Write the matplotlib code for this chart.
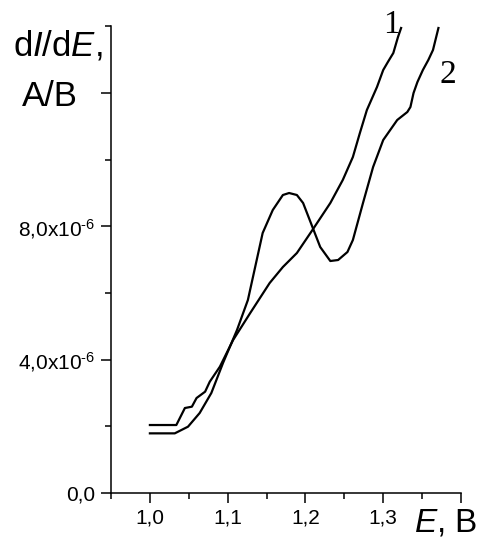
import matplotlib
matplotlib.use("Agg")
import matplotlib.pyplot as plt
import numpy as np

# dI/dE values in units of 1e-6 A/B
e_1 = [1.000, 1.034, 1.045, 1.054, 1.060, 1.071, 1.077, 1.090, 1.107, 1.129,
       1.154, 1.171, 1.189, 1.209, 1.232, 1.248, 1.261, 1.270, 1.279, 1.292,
       1.300, 1.306, 1.313, 1.319, 1.323]
di_1 = [2.04, 2.04, 2.55, 2.59, 2.85, 3.04, 3.34, 3.79, 4.59, 5.40,
        6.30, 6.78, 7.20, 7.89, 8.70, 9.39, 10.08, 10.80, 11.49, 12.18,
        12.69, 12.93, 13.20, 13.68, 13.95]

e_2 = [1.000, 1.032, 1.049, 1.064, 1.079, 1.094, 1.112, 1.126, 1.145, 1.158,
       1.171, 1.179, 1.189, 1.197, 1.209, 1.219, 1.232, 1.242, 1.254, 1.261,
       1.274, 1.287, 1.300, 1.318, 1.331, 1.335, 1.339, 1.344, 1.351, 1.358,
       1.364, 1.371]
di_2 = [1.79, 1.79, 1.99, 2.40, 3.00, 3.90, 4.89, 5.79, 7.80, 8.49,
        8.94, 9.00, 8.94, 8.70, 7.98, 7.38, 6.96, 6.99, 7.23, 7.59,
        8.70, 9.78, 10.59, 11.19, 11.43, 11.58, 12.00, 12.33, 12.69, 12.99,
        13.29, 13.95]

x_major = [1.0, 1.1, 1.2, 1.3, 1.4]
x_labels = ["1,0", "1,1", "1,2", "1,3", ""]
y_major = [0, 4, 8, 12]
y_labels = ["0,0", r"4,0x10$^{\text{-6}}$", r"8,0x10$^{\text{-6}}$", ""]

plt.rcParams["font.family"] = ["Liberation Sans", "DejaVu Sans"]
plt.rcParams["mathtext.fontset"] = "custom"
plt.rcParams["mathtext.rm"] = "Liberation Sans"
plt.rcParams["mathtext.it"] = "Liberation Sans:italic"

fig = plt.figure(figsize=(4.82, 5.39), dpi=100)
ax = fig.add_axes([0.2303, 0.0853, 0.7261, 0.9147])

ax.plot(e_1, di_1, color="black", lw=1.6)
ax.plot(e_2, di_2, color="black", lw=1.6)

ax.set_xlim(0.95, 1.40)
ax.set_ylim(0, 14.79)
ax.spines["top"].set_visible(False)
ax.spines["right"].set_visible(False)
ax.spines["left"].set_bounds(0, 14)
for s in ("left", "bottom"):
    ax.spines[s].set_linewidth(1.1)

ax.set_xticks(x_major)
ax.set_xticklabels(x_labels)
ax.set_xticks(np.arange(0.95, 1.40, 0.1), minor=True)
ax.set_yticks(y_major)
ax.set_yticklabels(y_labels)
ax.set_yticks([2, 6, 10, 14], minor=True)
ax.tick_params(which="major", length=7, width=1.1, labelsize=15, pad=4)
ax.tick_params(which="minor", length=4, width=1.1)

# curve numbers
fig.text(391 / 482, 1 - 25 / 539, "1", fontsize=24, family="Liberation Serif",
         ha="center", va="center")
fig.text(448 / 482, 1 - 75 / 539, "2", fontsize=24, family="Liberation Serif",
         ha="center", va="center")

# axis titles
fig.text(58 / 482, 1 - 45 / 539, r"d$\it{I}$/d$\it{E}$,", fontsize=25,
         ha="center", va="center")
fig.text(50 / 482, 1 - 96 / 539, "A/B", fontsize=25, ha="center", va="center")
fig.text(446 / 482, 1 - 523 / 539, r"$\it{E}$, B", fontsize=24,
         ha="center", va="center")

fig.savefig("out.png", dpi=100)
